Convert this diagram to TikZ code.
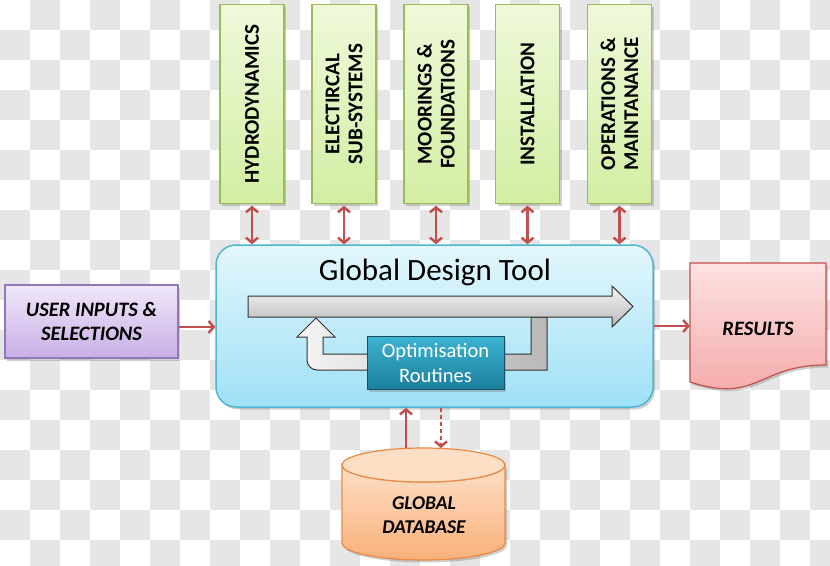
\documentclass[tikz,border=0pt]{standalone}
\usepackage{fontspec}
\setmainfont{Carlito}
\usetikzlibrary{arrows.meta,shadows}
\definecolor{chk}{HTML}{E6E6E6}
\definecolor{topA}{HTML}{EFF9DA}
\definecolor{topB}{HTML}{D2EEA2}
\definecolor{topbd}{HTML}{9BBB59}
\definecolor{gdtA}{HTML}{E4F7FD}
\definecolor{gdtB}{HTML}{9EE0F6}
\definecolor{gdtbd}{HTML}{4FB6D2}
\definecolor{optA}{HTML}{3DB3D3}
\definecolor{optB}{HTML}{1C7F9C}
\definecolor{optbd}{HTML}{1A4F60}
\definecolor{usrA}{HTML}{F0E8F9}
\definecolor{usrB}{HTML}{C8AEE6}
\definecolor{usrbd}{HTML}{9277B8}
\definecolor{resA}{HTML}{FDE2E2}
\definecolor{resB}{HTML}{F4A6A6}
\definecolor{resbd}{HTML}{C0504D}
\definecolor{dbA}{HTML}{FDDFC6}
\definecolor{dbB}{HTML}{F9B07A}
\definecolor{dbbd}{HTML}{E88A44}
\definecolor{arrc}{HTML}{C0504D}
\definecolor{grayA}{HTML}{F5F5F5}
\definecolor{grayB}{HTML}{B8B8B8}
\begin{document}
\begin{tikzpicture}[x=1pt,y=-1pt,
  shad/.style={drop shadow={shadow xshift=2pt,shadow yshift=-2.5pt,opacity=0.3,fill=black!60}},
  topbox/.style={draw=topbd,line width=1.2pt,top color=topA,bottom color=topB,
    minimum width=64,minimum height=199,anchor=north,inner sep=0pt,shad},
  toplabel/.style={rotate=90,align=center,font=\bfseries\fontsize{21}{23}\selectfont},
  gdtbox/.style={draw=gdtbd,line width=1.5pt,top color=gdtA,bottom color=gdtB,
    rounded corners=20pt,minimum width=437,minimum height=162,inner sep=0pt,shad},
  optbox/.style={draw=optbd,line width=1pt,top color=optA,bottom color=optB,
    minimum width=137,minimum height=53,inner sep=0pt,align=center,text=white,
    font=\fontsize{20.5}{25}\selectfont,shad},
  usrbox/.style={draw=usrbd,line width=1.2pt,top color=usrA,bottom color=usrB,
    minimum width=173,minimum height=73,inner sep=0pt,align=center,
    font=\bfseries\itshape\fontsize{20.5}{24}\selectfont,shad},
  bigarrow/.style={draw=black!80,line width=1pt,top color=grayA,bottom color=grayB},
  uarrow/.style={draw=black!80,line width=1pt,left color=grayA,right color=grayB},
  bi/.style={draw=arrc,line width=2.5pt,{Straight Barb[length=5pt,width=12pt]}-{Straight Barb[length=5pt,width=12pt]}},
  arr/.style={draw=arrc,line width=2.5pt,-{Straight Barb[length=5pt,width=12pt]}},
  dasharr/.style={arr,dash pattern=on 4pt off 3pt},
  bilabel/.style={align=center,font=\bfseries\itshape\fontsize{19.5}{24}\selectfont}
]
\useasboundingbox (0,0) rectangle (830,565);
\clip (0,0) rectangle (830,565);
% checkered background
\fill[white] (0,0) rectangle (830,565);
\foreach \r in {0,2,...,18}{\foreach \c in {1,3,...,27}{\fill[chk] (\c*30,\r*30) rectangle ++(30,30);}}
\foreach \r in {1,3,...,17}{\foreach \c in {0,2,...,26}{\fill[chk] (\c*30,\r*30) rectangle ++(30,30);}}

% top modules
\node[topbox] (hyd) at (252,4) {};
\node[topbox] (ele) at (344,4) {};
\node[topbox] (moo) at (436,4) {};
\node[topbox] (ins) at (527.5,4) {};
\node[topbox] (ops) at (619.5,4) {};
\node[toplabel] (hydt) at (hyd) {HYDRODYNAMICS};
\node[toplabel] (elet) at (ele) {ELECTIRCAL\\SUB-SYSTEMS};
\node[toplabel] (moot) at (moo) {MOORINGS \&\\FOUNDATIONS};
\node[toplabel] (inst) at (ins) {INSTALLATION};
\node[toplabel] (opst) at (ops) {OPERATIONS \&\\MAINTANANCE};

% main tool
\node[gdtbox] (gdt) at (434.5,326) {};
\node[font=\fontsize{31}{36}\selectfont] (title) at (435,272) {Global Design Tool};

% U-turn arrow
\path[uarrow] (547,317) -- (547,370) -- (317,370) .. controls (311.5,370) and (307,365.5) .. (307,360)
  -- (307,337) -- (297,337) -- (316,318) -- (335,337) -- (323,337) -- (323,354) -- (531,354) -- (531,317) -- cycle;
% big process arrow
\path[bigarrow] (248,296) -- (612,296) -- (612,286) -- (633,306.5) -- (612,327) -- (612,317) -- (248,317) -- cycle;

\node[optbox] (opt) at (435.5,362.5) {Optimisation\\Routines};

% user inputs
\node[usrbox] (user) at (91.5,321.5) {USER INPUTS \&\\SELECTIONS};

% results document
\path[draw=resbd,line width=1.2pt,top color=resA,bottom color=resB,shad]
  (690,263) -- (826,263) -- (826,365) .. controls (758,365) and (758,404) .. (690,382) -- cycle;
\node[bilabel,font=\bfseries\itshape\fontsize{20.5}{24}\selectfont,minimum width=136,inner sep=0pt] (res) at (758,329) {RESULTS};

% database cylinder
\path[draw=dbbd,line width=1.2pt,top color=dbA,bottom color=dbB,shad]
  (342,465) -- (342,543) arc[start angle=180,end angle=0,x radius=81.5,y radius=17]
  -- (505,465) arc[start angle=0,end angle=180,x radius=81.5,y radius=17] -- cycle;
\path[draw=dbbd,line width=1.2pt,fill=dbA] (423.5,465) ellipse[x radius=81.5,y radius=17];
\coordinate (dbtop) at (423.5,448);
\node[bilabel] (db) at (424,515) {GLOBAL\\DATABASE};

% connectors
\foreach \m in {hyd,ele,moo,ins,ops}{
  \draw[bi] ([yshift=-1.5pt]\m.south) -- (\m.south |- gdt.north);
}
\coordinate (uarr) at ([yshift=-5.5pt]user.east);
\draw[arr] (uarr) -- (gdt.west |- uarr);
\draw[arr] (gdt.east) -- (res.west |- gdt.east);
\coordinate (dbl) at ([xshift=-17.5pt]dbtop);
\coordinate (dbr) at ([xshift=17.5pt]dbtop);
\draw[arr] (dbl) -- (dbl |- gdt.south);
\draw[dasharr] (dbr |- gdt.south) -- (dbr);
\end{tikzpicture}
\end{document}
